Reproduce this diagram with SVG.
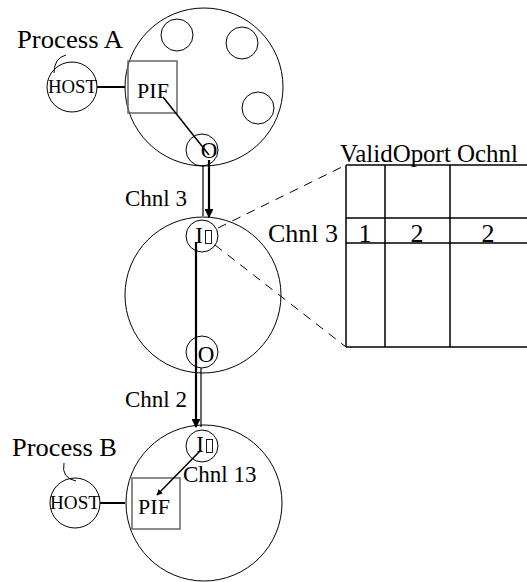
<svg xmlns="http://www.w3.org/2000/svg" width="527" height="582" viewBox="0 0 527 582">
<style>
text{font-family:"Liberation Serif","Times New Roman",serif;fill:#000}
.c{fill:none;stroke:#000;stroke-width:1}
.box{fill:none;stroke:#666;stroke-width:1.5}
.proc{font-size:25px}
.lbl{font-size:23px}
.tbl{font-size:26px}
.host{font-size:18px}
.pif{font-size:22px}
.io{font-size:23px}
.tofu{fill:none;stroke:#000;stroke-width:0.9}
.t{stroke:#000;stroke-width:1.5;fill:none}
.dash{stroke:#000;stroke-width:1;stroke-dasharray:9,7;fill:none}
</style>
<defs>
<marker id="ah" viewBox="0 0 10 10" refX="9" refY="5" markerWidth="4" markerHeight="4" orient="auto-start-reverse">
<path d="M0,0 L10,5 L0,10 z" fill="#000"/>
</marker>
</defs>
<rect width="527" height="582" fill="#fff"/>

<g id="processA">
<circle class="c" cx="204" cy="87" r="79"/>
<circle class="c" cx="177" cy="35" r="16"/>
<circle class="c" cx="242" cy="43" r="16"/>
<circle class="c" cx="258" cy="108" r="16"/>
<rect class="box" x="128" y="61" width="49" height="52"/>
<text class="pif" x="153" y="98" text-anchor="middle">PIF</text>
<circle class="c" cx="202" cy="150" r="16"/>
<text class="io" x="209" y="158" text-anchor="middle">O</text>
<text class="proc" x="17" y="48" textLength="106" lengthAdjust="spacingAndGlyphs">Process A</text>
<path class="c" d="M54,73 Q54,58 66,55"/>
<circle class="c" cx="72" cy="87" r="25"/>
<text class="host" x="48" y="93" textLength="49" lengthAdjust="spacingAndGlyphs">HOST</text>
</g>

<g id="middle">
<circle class="c" cx="203" cy="295" r="78"/>
<circle class="c" cx="202" cy="236" r="16"/>
<text class="io" x="199" y="243" text-anchor="middle">I</text>
<rect class="tofu" x="205.5" y="230.5" width="6" height="13"/>
<circle class="c" cx="202" cy="352" r="16"/>
<text class="io" x="206" y="362" text-anchor="middle">O</text>
</g>

<g id="processB">
<circle class="c" cx="204" cy="503" r="78"/>
<circle class="c" cx="202" cy="446" r="16"/>
<text class="io" x="200" y="452" text-anchor="middle">I</text>
<rect class="tofu" x="206.5" y="439.5" width="6" height="13"/>
<rect class="box" x="132" y="478" width="48" height="51"/>
<text class="pif" x="154" y="514" text-anchor="middle">PIF</text>
<text class="lbl" x="183" y="482">Chnl 13</text>
<text class="proc" x="12" y="456" textLength="105" lengthAdjust="spacingAndGlyphs">Process B</text>
<path class="c" d="M64,463 Q61,478 76,481"/>
<circle class="c" cx="75" cy="503" r="25"/>
<text class="host" x="50" y="509" textLength="50" lengthAdjust="spacingAndGlyphs">HOST</text>
</g>

<g id="table">
<g stroke="#000" stroke-width="1.5" fill="none">
<line x1="346" y1="165" x2="527" y2="165"/>
<line x1="346" y1="218" x2="527" y2="218"/>
<line x1="346" y1="243" x2="527" y2="243"/>
<line x1="346" y1="347" x2="527" y2="347"/>
<line x1="346" y1="165" x2="346" y2="347"/>
<line x1="385" y1="165" x2="385" y2="347"/>
<line x1="450" y1="165" x2="450" y2="347"/>
</g>
<text class="tbl" x="340" y="162" textLength="178" lengthAdjust="spacingAndGlyphs">ValidOport Ochnl</text>
<text class="tbl" x="268" y="242">Chnl 3</text>
<text class="tbl" x="365" y="242" text-anchor="middle">1</text>
<text class="tbl" x="417" y="242" text-anchor="middle">2</text>
<text class="tbl" x="488" y="242" text-anchor="middle">2</text>
</g>

<g id="connectors">
<line x1="97" y1="87" x2="125" y2="87" stroke="#000" stroke-width="2"/>
<line class="t" x1="163" y1="97" x2="209" y2="155"/>
<line x1="203" y1="165" x2="203" y2="216" stroke="#000" stroke-width="1.2"/>
<line x1="209" y1="160" x2="209" y2="217" stroke="#000" stroke-width="2.2" marker-end="url(#ah)"/>
<text class="lbl" x="125" y="206">Chnl 3</text>
<line x1="196" y1="242" x2="196" y2="427" stroke="#000" stroke-width="2.2" marker-end="url(#ah)"/>
<line x1="201" y1="368" x2="201" y2="427" stroke="#000" stroke-width="1.2"/>
<text class="lbl" x="125" y="407">Chnl 2</text>
<line x1="201" y1="450" x2="157" y2="495" stroke="#000" stroke-width="1.5" marker-end="url(#ah)"/>
<line x1="100" y1="503" x2="125" y2="503" stroke="#000" stroke-width="2"/>
<line class="dash" x1="218" y1="228" x2="346" y2="165"/>
<line class="dash" x1="215" y1="245" x2="346" y2="347"/>
</g>
</svg>
